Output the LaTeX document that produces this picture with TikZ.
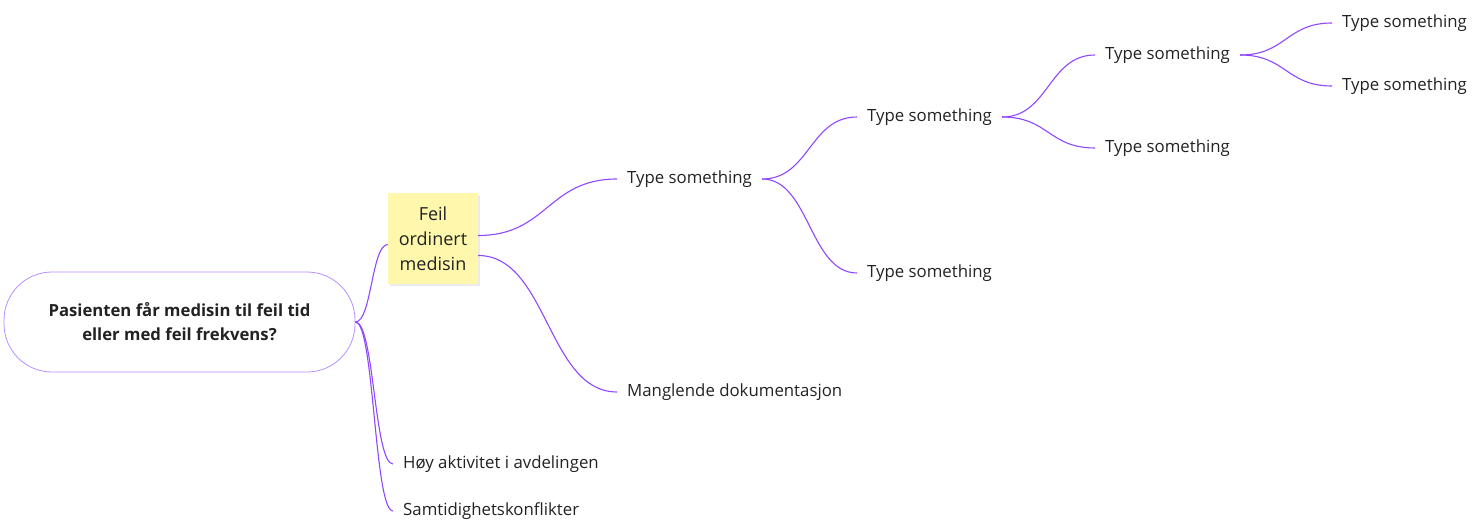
\documentclass[tikz,border=0pt]{standalone}
\usetikzlibrary{calc}
\usepackage{fontspec}
\setmainfont{Open Sans}
\definecolor{conn}{RGB}{143,72,255}
\definecolor{rootline}{RGB}{183,142,255}
\definecolor{sticky}{RGB}{255,247,172}
\definecolor{txt}{RGB}{34,34,34}
\begin{document}
\begin{tikzpicture}[x=1pt,y=-1pt,
  leaf/.style={anchor=west,inner xsep=10pt,inner ysep=2pt,font=\fontsize{16.8}{20}\selectfont,text=txt},
  conn/.style={draw=conn,line width=1.1pt},
]
\useasboundingbox (0,0) rectangle (1473,524);
% root
\node[draw=rootline,line width=0.8pt,rounded corners=48pt,minimum width=351pt,minimum height=100pt,
  align=center,font=\bfseries\fontsize{16.7}{24}\selectfont,text=txt,inner sep=0pt] (root) at (179.5,322)
  {Pasienten får medisin til feil tid\\eller med feil frekvens?};
% sticky
\fill[black,opacity=0.08] (389.5,195) rectangle (479.5,286);
\node[fill=sticky,minimum width=90pt,minimum height=91pt,inner sep=0pt,align=center,
  font=\fontsize{18}{25}\selectfont,text=txt] (st) at (433,238.5) {Feil\\ordinert\\medisin};
% leaves
\node[leaf] (a) at (617,179) {Type something};
\node[leaf] (m) at (617,392) {Manglende dokumentasjon};
\node[leaf] (h) at (393,464) {Høy aktivitet i avdelingen};
\node[leaf] (s) at (393,511) {Samtidighetskonflikter};
\node[leaf] (b1) at (857,117) {Type something};
\node[leaf] (b2) at (857,273) {Type something};
\node[leaf] (c1) at (1095,55) {Type something};
\node[leaf] (c2) at (1095,148) {Type something};
\node[leaf] (d1) at (1332,23) {Type something};
\node[leaf] (d2) at (1332,86) {Type something};
% connectors
\newcommand{\curvelink}[2]{%
  \path[conn] let \p1=(#1), \p2=(#2), \n1={(\x1+\x2)/2} in
    (\p1) .. controls (\n1,\y1) and (\n1,\y2) .. (\p2);}
\curvelink{root.east}{[yshift=-6pt]st.west}
\curvelink{root.east}{h.west}
\curvelink{root.east}{s.west}
\curvelink{[yshift=3pt]st.east}{a.west}
\curvelink{[yshift=-17pt]st.east}{m.west}
\curvelink{a.east}{b1.west}
\curvelink{a.east}{b2.west}
\curvelink{b1.east}{c1.west}
\curvelink{b1.east}{c2.west}
\curvelink{c1.east}{d1.west}
\curvelink{c1.east}{d2.west}
\end{tikzpicture}
\end{document}
